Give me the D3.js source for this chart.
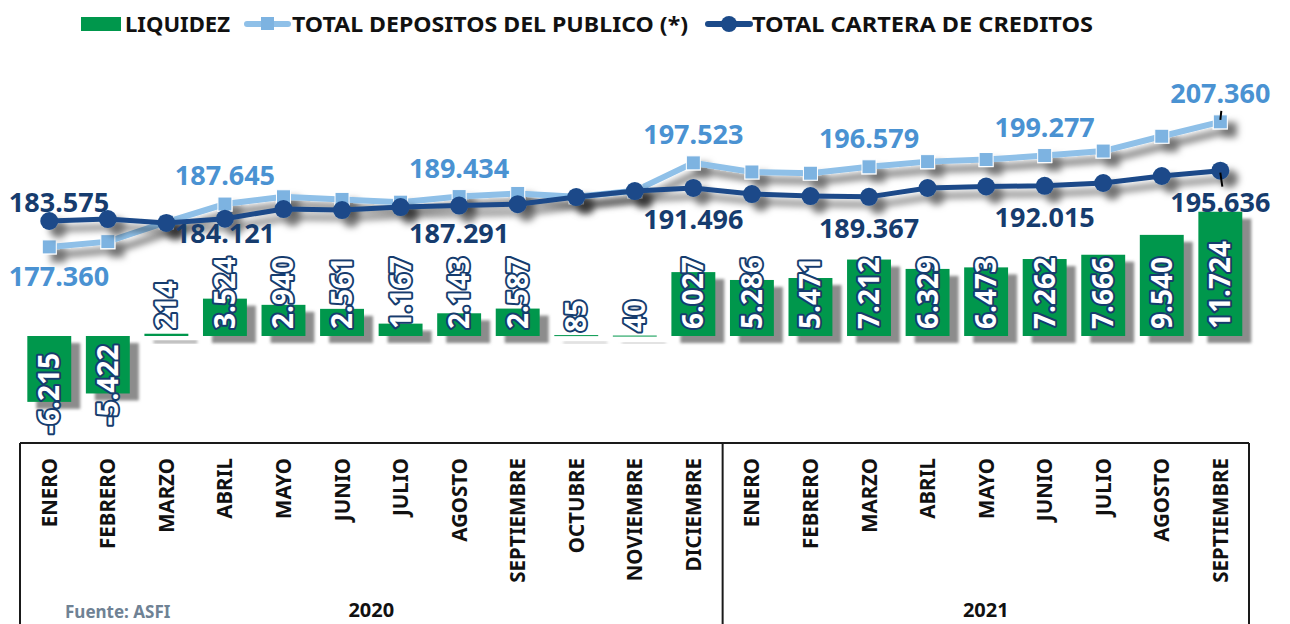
<!DOCTYPE html>
<html>
<head>
<meta charset="utf-8">
<script src="https://cdn.jsdelivr.net/npm/d3@7"></script>
<style>
  body { margin: 0; background: #fff; }
  svg text { font-family: "Noto Sans", sans-serif; font-weight: 700; }
</style>
</head>
<body>
<div id="chart"></div>
<script>
// data (millones de Bs.)
const months2020 = ["ENERO", "FEBRERO", "MARZO", "ABRIL", "MAYO", "JUNIO", "JULIO", "AGOSTO", "SEPTIEMBRE", "OCTUBRE", "NOVIEMBRE", "DICIEMBRE"];
const months2021 = ["ENERO", "FEBRERO", "MARZO", "ABRIL", "MAYO", "JUNIO", "JULIO", "AGOSTO", "SEPTIEMBRE"];
const years = ["2020", "2021"];

const liquidez = [-6215, -5422, 214, 3524, 2940, 2561, 1167, 2143, 2587, 85, 40, 6027,
                  5286, 5471, 7212, 6329, 6473, 7262, 7666, 9540, 11724];
const depositos = [177360, 178628, 183314, 187645, 189390, 188761, 188097, 189434, 190187, 189415, 190810, 197523,
                   195336, 195041, 196579, 197819, 198323, 199277, 200356, 203910, 207360];
const cartera = [183575, 184050, 183100, 184121, 186450, 186200, 186930, 187291, 187600, 189330, 190770, 191496,
                 190050, 189570, 189367, 191490, 191850, 192015, 192690, 194370, 195636];
// months whose line values carry a label
const labeled = [0, 3, 7, 11, 14, 17, 20];

const legendItems = ["LIQUIDEZ", "TOTAL DEPOSITOS DEL PUBLICO (*)", "TOTAL CARTERA DE CREDITOS"];

const WIDTH = 1290, HEIGHT = 624;
const GREEN = "#00974c";
const LIGHT = "#8fc0e8";
const LIGHT_MARK = "#7db3e1";
const LIGHT_TEXT = "#4a92d2";
const DARK = "#1b4a89";
const NAVY = "#163c6e";

const fmt = d3.formatLocale({decimal: ",", thousands: ".", grouping: [3], currency: ["", ""], minus: "-"}).format(",d");

const svg = d3.select("#chart").append("svg")
    .attr("width", WIDTH)
    .attr("height", HEIGHT);

const defs = svg.append("defs");
defs.append("filter").attr("id", "lineShadow")
    .attr("x", "-10%").attr("y", "-50%").attr("width", "130%").attr("height", "250%")
  .append("feDropShadow")
    .attr("dx", 9).attr("dy", 8).attr("stdDeviation", 3.5)
    .attr("flood-color", "#000").attr("flood-opacity", 0.55);
defs.append("filter").attr("id", "barBlur")
  .append("feGaussianBlur").attr("stdDeviation", 1.5);

const allMonths = months2020.concat(months2021);
const idx = d3.range(allMonths.length);

const x = d3.scaleBand()
    .domain(idx)
    .range([20, 1249.6])
    .paddingInner(0.25)
    .paddingOuter(0.125);

const yBar = d3.scaleLinear().domain([-10000, 12000]).range([442, 208.8]);
const yLine = d3.scaleLinear().domain([170000, 215000]).range([277.6, 90]);

const cx = i => x(i) + x.bandwidth() / 2;

// bars
const bars = svg.append("g");
bars.selectAll("rect.shadow")
    .data(idx)
    .join("rect")
    .attr("class", "shadow")
    .attr("x", i => x(i) + 9)
    .attr("y", i => Math.min(yBar(0), yBar(liquidez[i])) + 7)
    .attr("width", x.bandwidth())
    .attr("height", i => Math.max(1, Math.abs(yBar(liquidez[i]) - yBar(0))))
    .attr("fill", "#8c8c8c")
    .attr("filter", "url(#barBlur)");

bars.selectAll("rect.bar")
    .data(idx)
    .join("rect")
    .attr("class", "bar")
    .attr("x", i => x(i))
    .attr("y", i => Math.min(yBar(0), yBar(liquidez[i])))
    .attr("width", x.bandwidth())
    .attr("height", i => Math.max(1, Math.abs(yBar(liquidez[i]) - yBar(0))))
    .attr("fill", GREEN);

// lines
const lineGen = arr => d3.line().x((d, i) => cx(i)).y(d => yLine(d))(arr);

const depG = svg.append("g").attr("filter", "url(#lineShadow)");
depG.append("path")
    .attr("d", lineGen(depositos))
    .attr("fill", "none")
    .attr("stroke", LIGHT)
    .attr("stroke-width", 6);
depG.selectAll("rect")
    .data(depositos)
    .join("rect")
    .attr("x", (d, i) => cx(i) - 7)
    .attr("y", d => yLine(d) - 7)
    .attr("width", 14)
    .attr("height", 14)
    .attr("fill", LIGHT_MARK)
    .attr("stroke", "#fff")
    .attr("stroke-width", 1);

const carG = svg.append("g").attr("filter", "url(#lineShadow)");
carG.append("path")
    .attr("d", lineGen(cartera))
    .attr("fill", "none")
    .attr("stroke", DARK)
    .attr("stroke-width", 5);
carG.selectAll("circle")
    .data(cartera)
    .join("circle")
    .attr("cx", (d, i) => cx(i))
    .attr("cy", d => yLine(d))
    .attr("r", 9)
    .attr("fill", DARK);

// bar value labels (rotated)
const barLabelBase = i => {
    const v = liquidez[i];
    return v < 0 ? yBar(v) + 32 : yBar(0) - (Math.abs(v) < 100 ? 4 : 7);
};
const barLabels = svg.append("g").selectAll("text")
    .data(idx)
    .join("text")
    .attr("transform", i => "translate(" + (cx(i) + 10) + "," + barLabelBase(i) + ") rotate(-90)")
    .attr("font-size", 28)
    .attr("fill", "#fff")
    .attr("stroke", NAVY)
    .attr("stroke-width", 4)
    .attr("stroke-linejoin", "round")
    .attr("paint-order", "stroke")
    .text(i => fmt(liquidez[i]));

const barLabelTop = {};
barLabels.each(function(i) { barLabelTop[i] = barLabelBase(i) - this.getComputedTextLength(); });

// line value labels
const last = allMonths.length - 1;
const labG = svg.append("g").attr("font-size", 27).attr("text-anchor", "middle");
labeled.forEach(i => {
    const depAbove = depositos[i] >= cartera[i];
    const yd = yLine(depositos[i]), yc = yLine(cartera[i]);
    const xc = i === 0 ? 59 : cx(i);
    labG.append("text")
        .attr("x", xc)
        .attr("y", depAbove ? yd - 19 : yd + 39)
        .attr("fill", LIGHT_TEXT)
        .text(fmt(depositos[i]));
    labG.append("text")
        .attr("x", xc)
        .attr("y", depAbove ? Math.min(yc + 41, barLabelTop[i] - 14) : yc - 9)
        .attr("fill", NAVY)
        .text(fmt(cartera[i]));
    if (i === last) {
        labG.append("line")
            .attr("x1", cx(i) + 1).attr("y1", yd - 11)
            .attr("x2", cx(i)).attr("y2", yd - 2)
            .attr("stroke", "#000").attr("stroke-width", 2);
        labG.append("line")
            .attr("x1", cx(i)).attr("y1", yc + 2)
            .attr("x2", cx(i) + 2).attr("y2", yc + 16)
            .attr("stroke", "#000").attr("stroke-width", 2);
    }
});

// category axis box
const divX = x(12) - x.step() * x.paddingInner() / 2;
const axisG = svg.append("g").attr("stroke", "#1a1a1a").attr("stroke-width", 2);
axisG.append("line").attr("x1", 20).attr("x2", 1249).attr("y1", 443).attr("y2", 443);
axisG.append("line").attr("x1", 20).attr("x2", 20).attr("y1", 443).attr("y2", HEIGHT);
axisG.append("line").attr("x1", divX).attr("x2", divX).attr("y1", 443).attr("y2", HEIGHT);
axisG.append("line").attr("x1", 1249).attr("x2", 1249).attr("y1", 443).attr("y2", HEIGHT);

svg.append("g").selectAll("text")
    .data(allMonths)
    .join("text")
    .attr("transform", (d, i) => "translate(" + (cx(i) + 7.5) + ",458) rotate(-90)")
    .attr("text-anchor", "end")
    .attr("font-size", 20.5)
    .attr("fill", "#111")
    .text(d => d);

svg.append("g").selectAll("text")
    .data(years)
    .join("text")
    .attr("x", (d, i) => i === 0 ? (20 + divX) / 2 : (divX + 1249) / 2)
    .attr("y", 617)
    .attr("text-anchor", "middle")
    .attr("font-size", 20)
    .attr("fill", "#111")
    .text(d => d);

svg.append("text")
    .attr("x", 65)
    .attr("y", 618)
    .attr("font-size", 17)
    .attr("fill", "#6f8294")
    .text("Fuente: ASFI");

// legend
const leg = svg.append("g");
leg.append("rect").attr("x", 81).attr("y", 17).attr("width", 40).attr("height", 14).attr("fill", GREEN);
leg.append("line").attr("x1", 247).attr("x2", 288).attr("y1", 24).attr("y2", 24)
    .attr("stroke", LIGHT).attr("stroke-width", 6).attr("stroke-linecap", "round");
leg.append("rect").attr("x", 261).attr("y", 17).attr("width", 13).attr("height", 13).attr("fill", LIGHT_MARK);
leg.append("line").attr("x1", 708).attr("x2", 750).attr("y1", 24).attr("y2", 24)
    .attr("stroke", DARK).attr("stroke-width", 6).attr("stroke-linecap", "round");
leg.append("circle").attr("cx", 729).attr("cy", 24).attr("r", 8).attr("fill", DARK);

const legPos = [[125, 105], [292, 396], [752, 341]];
leg.selectAll("text")
    .data(legendItems)
    .join("text")
    .attr("x", (d, i) => legPos[i][0])
    .attr("y", 32)
    .attr("font-size", 21)
    .attr("fill", "#111")
    .attr("textLength", (d, i) => legPos[i][1])
    .attr("lengthAdjust", "spacingAndGlyphs")
    .text(d => d);
</script>
</body>
</html>
